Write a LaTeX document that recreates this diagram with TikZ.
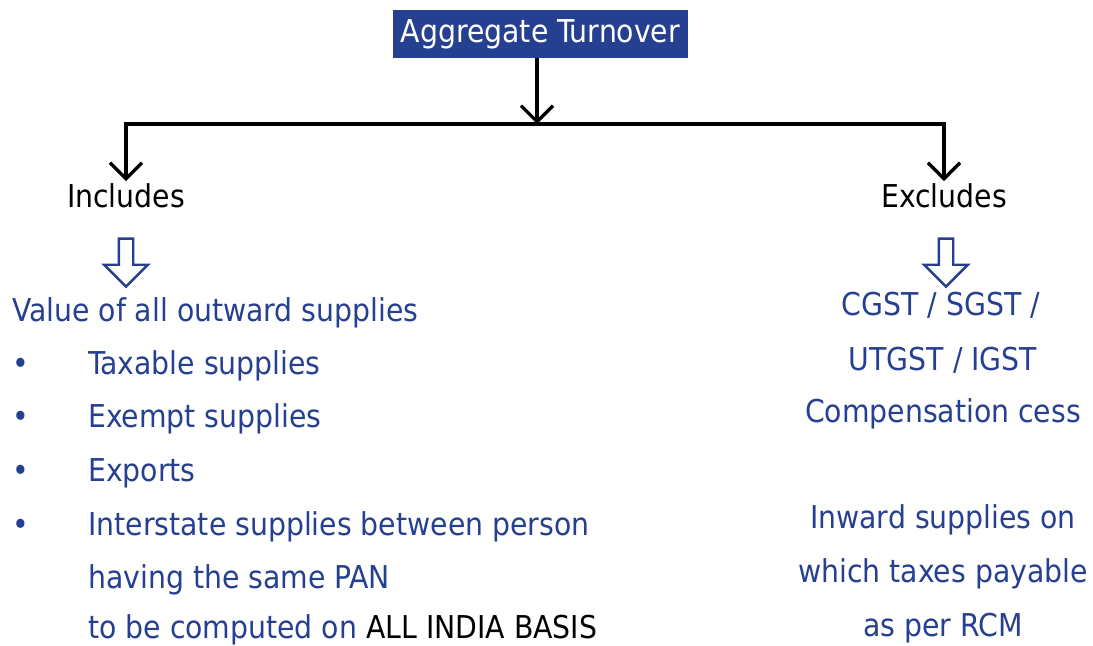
\documentclass[tikz,border=0pt]{standalone}
\usepackage{fontspec}
\setmainfont{DejaVu Sans Condensed}
\usetikzlibrary{arrows.meta,positioning,shapes.arrows}
\definecolor{gstblue}{RGB}{38,64,145}

\begin{document}
\begin{tikzpicture}[x=0.75pt, y=-0.75pt,
    every node/.style={font=\fontsize{23.6}{28}\selectfont, inner sep=0pt},
    title/.style={fill=gstblue, text=white, minimum width=221pt, minimum height=36pt},
    branch/.style={anchor=base, outer sep=1.5pt},
    item/.style={anchor=base west, text=gstblue},
    excl item/.style={anchor=base, text=gstblue},
    dot/.style={anchor=base, text=gstblue},
    link/.style={line width=2.5pt, -{Straight Barb[length=12pt, width=24pt, line width=2.5pt]}},
    hollow/.style={single arrow, draw=gstblue, line width=1.8pt, rotate=-90, inner sep=4.5pt,
        minimum height=36pt, single arrow head extend=11pt}]
    \useasboundingbox (0,0) rectangle (1093,646);

    % Heading box
    \node[title] (agg) at (540.5,34) {Aggregate Turnover};

    % The two branches
    \node[branch] (incl) at (126,207) {Includes};
    \node[branch] (excl) at (944,207) {Excludes};

    % Arrow down to the bar, then split left and right
    \coordinate (bar) at (537,124);
    \draw[link] (agg.south -| bar) -- (bar);
    \draw[link] (bar) -| (incl);
    \draw[link] (bar) -| (excl);

    % Hollow arrows under each branch
    \node[hollow] (inclArr) at (126,259) {};
    \node[hollow] (exclArr) at (946,259) {};

    % What is included
    \node[item] (val) at (12,321) {Value of all outward supplies};
    \foreach \y/\n in {374/1,427/2,481/3,535/4}
        \node[dot] (b\n) at (21,\y) {\textbullet};
    \node[item] (taxable) at (88,374) {Taxable supplies};
    \node[item] (exempt) at (88,427) {Exempt supplies};
    \node[item] (exports) at (88,481) {Exports};
    \node[item] (inter1) at (88,535) {Interstate supplies between person};
    \node[item] (inter2) at (88,588) {having the same PAN};
    \node[item] (inter3) at (88,638) {to be computed on \textcolor{black}{ALL INDIA BASIS}};

    % What is excluded
    \node[excl item] (gst1) at (941,315) {CGST / SGST /};
    \node[excl item] (gst2) at (943,370) {UTGST / IGST};
    \node[excl item] (cess) at (943,422) {Compensation cess};
    \node[excl item] (rcm1) at (943,528) {Inward supplies on};
    \node[excl item] (rcm2) at (943,582) {which taxes payable};
    \node[excl item] (rcm3) at (943,636) {as per RCM};

\end{tikzpicture}
\end{document}
